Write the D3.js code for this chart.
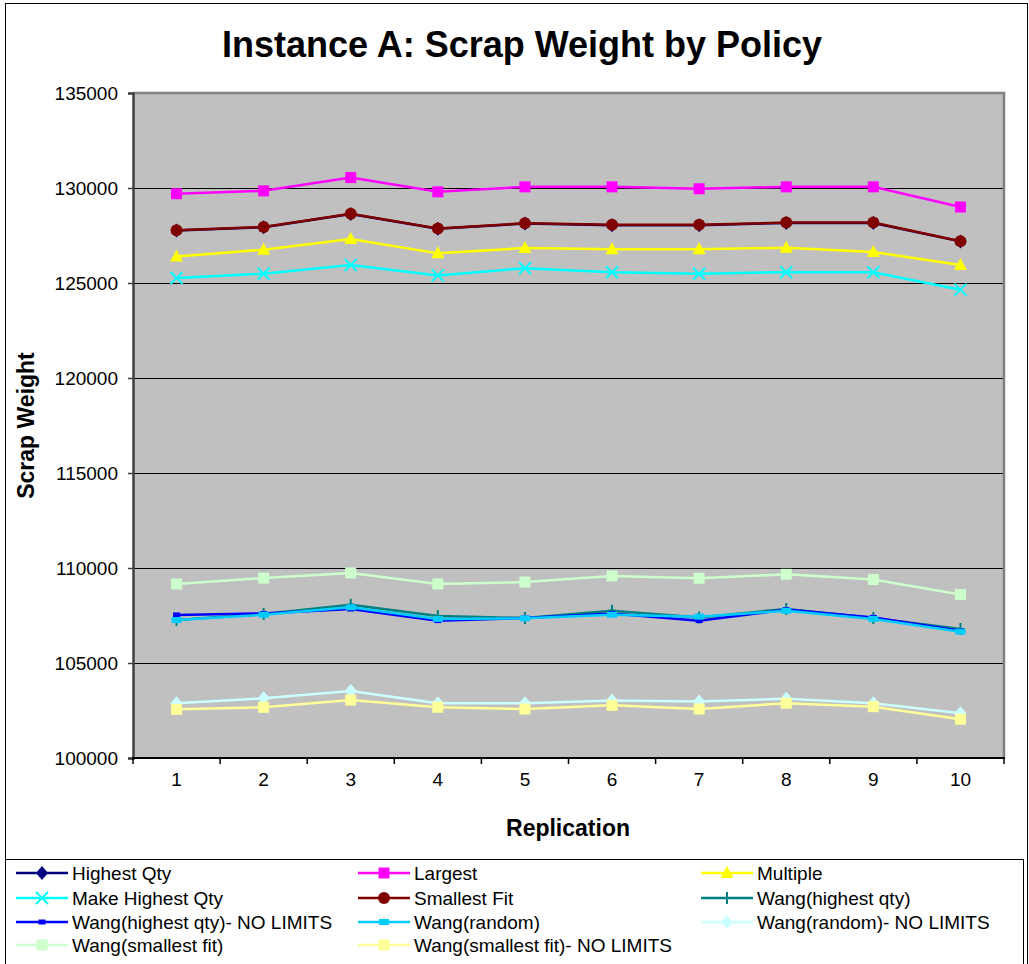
<!doctype html>
<html>
<head>
<meta charset="utf-8">
<title>Instance A: Scrap Weight by Policy</title>
<script src="https://cdn.jsdelivr.net/npm/d3@7"></script>
<style>
  body { margin: 0; background: #fff; }
  svg { font-family: "Liberation Sans", Arial, sans-serif; }
</style>
</head>
<body>
<div id="chart"></div>
<script>
  // replications on the x axis
  const replications = [1, 2, 3, 4, 5, 6, 7, 8, 9, 10];

  // one array per policy
  const highestQty     = [127760, 127940, 128630, 127850, 128130, 128040, 128040, 128160, 128160, 127190];
  const largest        = [129700, 129850, 130550, 129800, 130060, 130060, 129960, 130060, 130060, 129000];
  const multiple       = [126390, 126750, 127310, 126560, 126840, 126770, 126770, 126860, 126630, 125950];
  const makeHighestQty = [125260, 125490, 125950, 125400, 125780, 125570, 125490, 125570, 125570, 124650];
  const smallestFit    = [127780, 127950, 128650, 127870, 128140, 128060, 128060, 128180, 128180, 127200];
  const wangHQ         = [107260, 107580, 108070, 107470, 107370, 107750, 107400, 107840, 107370, 106790];
  const wangHQNoLim    = [107530, 107610, 107840, 107230, 107370, 107610, 107230, 107810, 107400, 106700];
  const wangRandom     = [107260, 107540, 107930, 107320, 107350, 107540, 107440, 107750, 107320, 106650];
  const wangRandomNoLim= [102880, 103140, 103530, 102880, 102880, 103020, 102970, 103120, 102880, 102350];
  const wangSF         = [109160, 109470, 109740, 109160, 109260, 109580, 109460, 109670, 109390, 108600];
  const wangSFNoLim    = [102560, 102670, 103050, 102670, 102580, 102770, 102580, 102880, 102700, 102040];

  const yTicks = [100000, 105000, 110000, 115000, 120000, 125000, 130000, 135000];

  const series = [
    {name: 'Highest Qty', values: highestQty, color: '#000080', marker: 'diamond'},
    {name: 'Largest', values: largest, color: '#FF00FF', marker: 'square'},
    {name: 'Multiple', values: multiple, color: '#FFFF00', marker: 'triangle'},
    {name: 'Make Highest Qty', values: makeHighestQty, color: '#00FFFF', marker: 'x'},
    {name: 'Smallest Fit', values: smallestFit, color: '#800000', marker: 'circle'},
    {name: 'Wang(highest qty)', values: wangHQ, color: '#008080', marker: 'plus'},
    {name: 'Wang(highest qty)- NO LIMITS', values: wangHQNoLim, color: '#0000FF', marker: 'dash'},
    {name: 'Wang(random)', values: wangRandom, color: '#00CCFF', marker: 'bar'},
    {name: 'Wang(random)- NO LIMITS', values: wangRandomNoLim, color: '#CCFFFF', marker: 'diamond'},
    {name: 'Wang(smallest fit)', values: wangSF, color: '#CCFFCC', marker: 'square'},
    {name: 'Wang(smallest fit)- NO LIMITS', values: wangSFNoLim, color: '#FFFF99', marker: 'square'}
  ];

  const W = 1029, H = 964;
  const plot = {left: 133, right: 1004, top: 93, bottom: 758};

  const svg = d3.select('#chart').append('svg')
    .attr('width', W)
    .attr('height', H);

  // outer frame
  svg.append('rect')
    .attr('x', 5.5).attr('y', 3.5)
    .attr('width', W - 7).attr('height', H)
    .attr('fill', '#fff').attr('stroke', '#000');

  const x = d3.scaleBand()
    .domain(replications)
    .range([plot.left, plot.right]);

  const y = d3.scaleLinear()
    .domain([100000, 135000])
    .range([plot.bottom, plot.top]);

  const cx = d => x(d) + x.bandwidth() / 2;

  // plot background
  svg.append('rect')
    .attr('x', plot.left).attr('y', plot.top)
    .attr('width', plot.right - plot.left).attr('height', plot.bottom - plot.top)
    .attr('fill', '#C0C0C0');

  // gridlines
  svg.append('g')
    .selectAll('line')
    .data(yTicks.filter(t => t > 100000 && t < 135000))
    .join('line')
    .attr('x1', plot.left).attr('x2', plot.right)
    .attr('y1', d => Math.round(y(d)) + 0.5).attr('y2', d => Math.round(y(d)) + 0.5)
    .attr('stroke', '#000').attr('stroke-width', 1);

  // gray border top and right
  svg.append('path')
    .attr('d', `M${plot.left},${plot.top} H${plot.right} V${plot.bottom}`)
    .attr('fill', 'none').attr('stroke', '#808080').attr('stroke-width', 2.5);

  // y axis
  const yAxis = svg.append('g')
    .attr('transform', `translate(${plot.left},0)`)
    .call(d3.axisLeft(y).tickValues(yTicks).tickSize(5).tickPadding(10).tickFormat(d3.format('d')));
  yAxis.select('.domain').attr('stroke', '#404040').attr('stroke-width', 2.5);
  yAxis.selectAll('.tick line').attr('stroke', '#404040').attr('stroke-width', 1.5);
  yAxis.selectAll('text')
    .attr('font-size', 19).attr('fill', '#000')
    .attr('font-family', '"Liberation Sans", Arial, sans-serif');

  // x axis: labels centred, ticks at band edges
  const xAxis = svg.append('g')
    .attr('transform', `translate(0,${plot.bottom})`)
    .call(d3.axisBottom(x).tickSize(0).tickPadding(15));
  xAxis.select('.domain').remove();
  xAxis.selectAll('text')
    .attr('font-size', 19).attr('fill', '#000')
    .attr('font-family', '"Liberation Sans", Arial, sans-serif');

  const edges = replications.map(d => x(d)).concat([x.range()[1]]);
  svg.append('g')
    .selectAll('line')
    .data(edges)
    .join('line')
    .attr('x1', d => d).attr('x2', d => d)
    .attr('y1', plot.bottom).attr('y2', plot.bottom + 6)
    .attr('stroke', '#000').attr('stroke-width', 1.5);
  svg.append('line')
    .attr('x1', plot.left - 1).attr('x2', plot.right + 1)
    .attr('y1', plot.bottom).attr('y2', plot.bottom)
    .attr('stroke', '#000').attr('stroke-width', 2);

  // titles
  svg.append('text')
    .attr('x', 522).attr('y', 57)
    .attr('text-anchor', 'middle')
    .attr('font-size', 36).attr('font-weight', 'bold')
    .text('Instance A: Scrap Weight by Policy');

  svg.append('text')
    .attr('x', 568).attr('y', 836)
    .attr('text-anchor', 'middle')
    .attr('font-size', 23).attr('font-weight', 'bold')
    .text('Replication');

  svg.append('text')
    .attr('transform', `translate(34,${(plot.top + plot.bottom) / 2}) rotate(-90)`)
    .attr('text-anchor', 'middle')
    .attr('font-size', 23).attr('font-weight', 'bold')
    .text('Scrap Weight');

  // markers
  function drawMarker(g, type, color) {
    switch (type) {
      case 'diamond':
        g.append('path').attr('d', 'M0,-7 L6,0 L0,7 L-6,0Z').attr('fill', color);
        break;
      case 'square':
        g.append('rect').attr('x', -5.5).attr('y', -5.5).attr('width', 11).attr('height', 11).attr('fill', color);
        break;
      case 'triangle':
        g.append('path').attr('d', 'M0,-7 L6.5,5 L-6.5,5Z').attr('fill', color);
        break;
      case 'x':
        g.append('path').attr('d', 'M-6,-6 L6,6 M-6,6 L6,-6')
          .attr('stroke', color).attr('stroke-width', 2).attr('fill', 'none');
        break;
      case 'circle':
        g.append('circle').attr('r', 6).attr('fill', color);
        break;
      case 'plus':
        g.append('path').attr('d', 'M0,-6 V6 M-4,0 H4')
          .attr('stroke', color).attr('stroke-width', 2).attr('fill', 'none');
        break;
      case 'dash':
        g.append('rect').attr('x', -3.5).attr('y', -2.5).attr('width', 7).attr('height', 5).attr('fill', color);
        break;
      case 'bar':
        g.append('rect').attr('x', -5).attr('y', -3).attr('width', 10).attr('height', 6).attr('fill', color);
        break;
    }
  }

  const line = d3.line()
    .x((d, i) => cx(replications[i]))
    .y(d => y(d));

  series.forEach(s => {
    const g = svg.append('g');
    g.append('path')
      .attr('d', line(s.values))
      .attr('fill', 'none')
      .attr('stroke', s.color)
      .attr('stroke-width', 2.5);
    s.values.forEach((v, i) => {
      const m = g.append('g').attr('transform', `translate(${cx(replications[i])},${y(v)})`);
      drawMarker(m, s.marker, s.color);
    });
  });

  // legend
  svg.append('rect')
    .attr('x', 5.5).attr('y', 859.5)
    .attr('width', 1018).attr('height', 120)
    .attr('fill', '#fff').attr('stroke', '#000');

  const colX = [16, 358, 701];
  const rowY = [873, 898, 922, 945];
  series.forEach((s, i) => {
    const lx = colX[i % 3], ly = rowY[Math.floor(i / 3)];
    const g = svg.append('g').attr('transform', `translate(${lx},${ly})`);
    g.append('line').attr('x1', 0).attr('x2', 52).attr('y1', 0).attr('y2', 0)
      .attr('stroke', s.color).attr('stroke-width', 2.5);
    const m = g.append('g').attr('transform', 'translate(26,0)');
    drawMarker(m, s.marker, s.color);
    g.append('text')
      .attr('x', 56).attr('y', 7)
      .attr('font-size', 19)
      .text(s.name);
  });
</script>
</body>
</html>
